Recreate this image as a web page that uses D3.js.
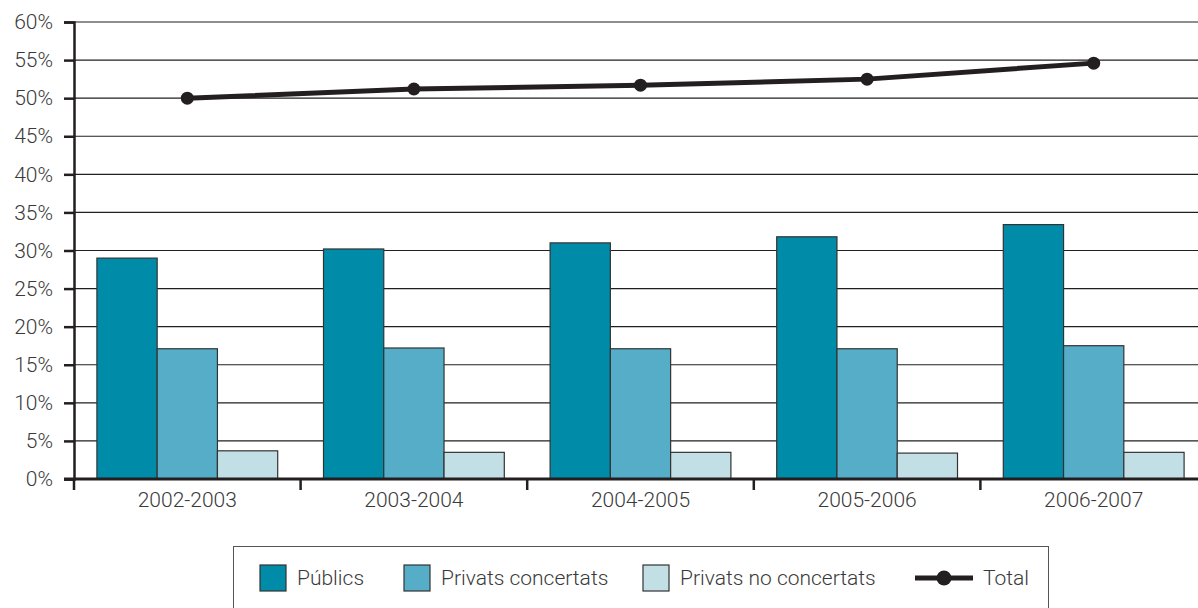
<!DOCTYPE html>
<html>
<head>
<meta charset="utf-8">
<script src="https://cdn.jsdelivr.net/npm/d3@7"></script>
<style>
  body { margin: 0; background: #fff; }
  svg { display: block; font-family: Roboto, "Liberation Sans", Arial, sans-serif; font-weight: 300; }
</style>
</head>
<body>
<div id="main"></div>
<script>
// data
const cursos = ["2002-2003", "2003-2004", "2004-2005", "2005-2006", "2006-2007"];
const series = ["Públics", "Privats concertats", "Privats no concertats"];
const publics = [29.0, 30.2, 31.0, 31.8, 33.4];
const concertats = [17.1, 17.2, 17.1, 17.1, 17.5];
const noConcertats = [3.7, 3.5, 3.5, 3.4, 3.5];
const total = [50.0, 51.2, 51.7, 52.5, 54.6];
const yTicks = [0, 5, 10, 15, 20, 25, 30, 35, 40, 45, 50, 55, 60];

const colors = ["#008ba8", "#55adc7", "#c2dfe6"];
const ink = "#231f20";
const txt = "#3a3a3a";
const fs = "21px";

const W = 1198, H = 608;
const m = {left: 74, top: 22, bottom: 129};

const svg = d3.select("#main").append("svg")
  .attr("width", W).attr("height", H);

const rows = cursos.map((c, i) => ({curs: c, vals: [publics[i], concertats[i], noConcertats[i]], total: total[i]}));

const x0 = d3.scaleBand().domain(cursos).range([m.left, m.left + 5 * 226.6]).padding(0);
const x1 = d3.scaleBand().domain(series).range([0, x0.bandwidth()]).paddingInner(0).paddingOuter(0.38);
const y = d3.scaleLinear().domain([0, 60]).range([H - m.bottom, m.top]);

// gridlines
svg.append("g")
  .selectAll("line")
  .data(yTicks.filter(d => d > 0))
  .join("line")
  .attr("x1", m.left).attr("x2", W)
  .attr("y1", d => y(d)).attr("y2", d => y(d))
  .attr("stroke", ink).attr("stroke-width", 1.2);

// bars
const groups = svg.append("g")
  .selectAll("g")
  .data(rows)
  .join("g")
  .attr("transform", d => `translate(${x0(d.curs)},0)`);

groups.selectAll("rect")
  .data(d => d.vals.map((v, k) => ({s: series[k], v: v, k: k})))
  .join("rect")
  .attr("x", d => x1(d.s))
  .attr("y", d => y(d.v))
  .attr("width", x1.bandwidth())
  .attr("height", d => y(0) - y(d.v))
  .attr("fill", d => colors[d.k])
  .attr("stroke", "#333")
  .attr("stroke-width", 1.2);

// y axis
const yAxis = d3.axisLeft(y).tickValues(yTicks).tickFormat(d => d + "%").tickSize(10).tickPadding(11);
const gy = svg.append("g")
  .attr("transform", `translate(${m.left},0)`)
  .call(yAxis)
  .attr("font-family", null)
  .attr("font-size", null);
gy.select(".domain").attr("stroke", ink).attr("stroke-width", 2.5);
gy.selectAll(".tick line").attr("stroke", ink).attr("stroke-width", 2.5);
gy.selectAll("text").attr("fill", txt).style("font-size", fs);

// x axis
const boundaries = cursos.map(c => x0(c)).concat([x0(cursos[4]) + x0.bandwidth()]);
const gx = svg.append("g").attr("transform", `translate(0,${y(0)})`);
gx.append("line")
  .attr("x1", m.left - 10).attr("x2", W)
  .attr("stroke", ink).attr("stroke-width", 3);
gx.selectAll(".bt")
  .data(boundaries)
  .join("line")
  .attr("class", "bt")
  .attr("x1", d => d).attr("x2", d => d)
  .attr("y1", 0).attr("y2", 11)
  .attr("stroke", ink).attr("stroke-width", 2.5);
gx.selectAll("text")
  .data(cursos)
  .join("text")
  .attr("x", d => x0(d) + x0.bandwidth() / 2)
  .attr("y", 28)
  .attr("text-anchor", "middle")
  .attr("fill", txt)
  .style("font-size", fs)
  .text(d => d);

// total line
const cx = d => x0(d.curs) + x0.bandwidth() / 2;
svg.append("path")
  .datum(rows)
  .attr("fill", "none")
  .attr("stroke", ink)
  .attr("stroke-width", 5)
  .attr("d", d3.line().x(cx).y(d => y(d.total)));
svg.append("g")
  .selectAll("circle")
  .data(rows)
  .join("circle")
  .attr("cx", cx).attr("cy", d => y(d.total))
  .attr("r", 6.5).attr("fill", ink);

// legend
const lg = svg.append("g");
lg.append("rect")
  .attr("x", 233.5).attr("y", 546.5)
  .attr("width", 815).attr("height", 70)
  .attr("fill", "#fff").attr("stroke", "#555").attr("stroke-width", 1);

const legX = [260, 404, 643];
series.forEach((s, k) => {
  lg.append("rect")
    .attr("x", legX[k]).attr("y", 565)
    .attr("width", 26).attr("height", 26)
    .attr("fill", colors[k]).attr("stroke", "#333").attr("stroke-width", 1.2);
  lg.append("text")
    .attr("x", legX[k] + 37).attr("y", 585)
    .attr("fill", txt).style("font-size", fs)
    .text(s);
});
lg.append("line")
  .attr("x1", 915).attr("x2", 973).attr("y1", 578).attr("y2", 578)
  .attr("stroke", ink).attr("stroke-width", 5);
lg.append("circle").attr("cx", 944).attr("cy", 578).attr("r", 7.5).attr("fill", ink);
lg.append("text")
  .attr("x", 983).attr("y", 585)
  .attr("fill", txt).style("font-size", fs)
  .text("Total");
</script>
</body>
</html>
